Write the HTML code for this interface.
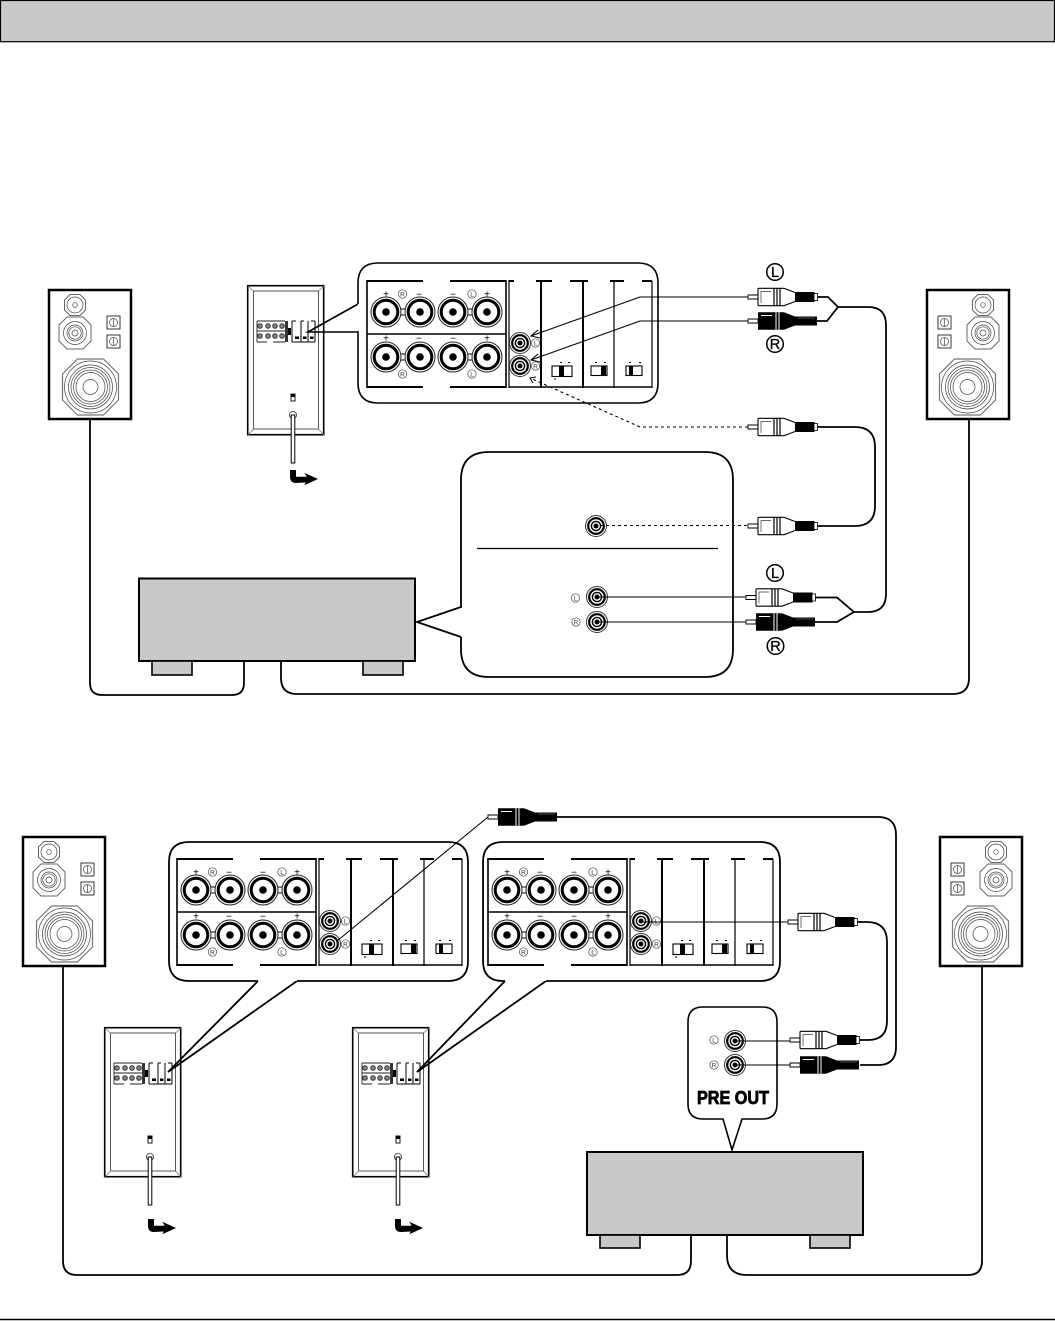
<!DOCTYPE html>
<html><head><meta charset="utf-8"><style>html,body{margin:0;padding:0;background:#fff}svg{display:block}text{font-family:"Liberation Sans",sans-serif}</style></head><body>
<svg xmlns="http://www.w3.org/2000/svg" width="1055" height="1321" viewBox="0 0 1055 1321">
<defs>
<g id="spk" fill="none" stroke="#444" stroke-width=".7">
<rect x="0" y="0" width="82" height="129" fill="#fff" stroke="#000" stroke-width="2.5"/>
<polygon points="21,4.5 31,4.5 36.5,10 36.5,20 31,25.5 21,25.5 15.5,20 15.5,10" stroke="#666" stroke-width="1"/><circle cx="26" cy="15" r="8"/><circle cx="26" cy="15" r="2.3"/>
<polygon points="18,27 34,27 42,35 42,51 34,59 18,59 10,51 10,35" stroke="#666" stroke-width="1"/><circle cx="26" cy="43" r="11.5"/><circle cx="26" cy="43" r="8"/><circle cx="26" cy="43" r="6.2"/><circle cx="26" cy="43" r="3"/>
<polygon points="28.5,69 54.5,69 69.5,84 69.5,110 54.5,125 28.5,125 13.5,110 13.5,84" stroke="#777" stroke-width="1.2"/><circle cx="41.5" cy="97" r="26"/><circle cx="41.5" cy="97" r="22"/><circle cx="41.5" cy="97" r="19.5"/><circle cx="41.5" cy="97" r="17"/><circle cx="41.5" cy="97" r="14.5"/><circle cx="41.5" cy="97" r="7.5"/>
<rect x="58" y="26" width="13" height="13" stroke="#222" stroke-width=".9"/><circle cx="64.5" cy="32.5" r="4"/><path d="M64.5 28.5v8"/>
<rect x="58" y="45" width="13" height="13" stroke="#222" stroke-width=".9"/><circle cx="64.5" cy="51.5" r="4"/><path d="M64.5 47.5v8"/>
</g>
<g id="unit">
<rect x=".7" y=".7" width="76" height="149" fill="#fff" stroke="#000" stroke-width="1.6"/>
<rect x="6.5" y="6" width="65" height="138" fill="none" stroke="#555" stroke-width="1"/>
<path d="M1 1l5.5 5M77 1l-5.5 5M1 150l5.5-6M77 150l-5.5-6" stroke="#777" stroke-width=".8"/>
<g fill="#888" stroke="#333" stroke-width="1"><circle cx="13" cy="41" r="2.3"/><circle cx="21" cy="41" r="2.3"/><circle cx="28" cy="41" r="2.3"/><circle cx="35" cy="41" r="2.3"/><circle cx="13" cy="51" r="2.3"/><circle cx="21" cy="51" r="2.3"/><circle cx="28" cy="51" r="2.3"/><circle cx="35" cy="51" r="2.3"/></g>
<path d="M10 36H38M10 46H38M10 57H20M26 57H38M10 36V57M38.5 36V57" fill="none" stroke="#222" stroke-width=".9"/>
<path d="M40 36V57" stroke="#000" stroke-width="1.6"/>
<rect x="41" y="43" width="3" height="7" fill="#000"/>
<path d="M45 36V57M54 36V57M61 36V57M68 36V57M45 57H68M45 36H49M54 36H57M64 36H68" fill="none" stroke="#000" stroke-width="1"/>
<rect x="48" y="51.5" width="4" height="2.5" fill="#000"/><rect x="56" y="51.5" width="3.5" height="2.5" fill="#000"/><rect x="63" y="51.5" width="3.5" height="2.5" fill="#000"/>
<rect x="44" y="109" width="4" height="7" fill="#fff" stroke="#000" stroke-width=".9"/><rect x="44" y="109" width="4" height="3" fill="#000"/>
<circle cx="46" cy="130" r="3.6" fill="#fff" stroke="#444" stroke-width=".9"/>
<rect x="44.2" y="130" width="3.6" height="48" fill="#fff" stroke="#000" stroke-width="1"/>
</g>
<path id="bend" d="M0 0H6V6.7H16.7L14.3 2.8 28 9 14.3 15.2 15.7 12.5 6 13C2 13 0 11 0 6.5Z" fill="#000"/>
<g id="term"><circle r="15" fill="#fff" stroke="#222" stroke-width="1"/><circle r="11.8" fill="#fff" stroke="#000" stroke-width="3"/><circle r="3.8" fill="#000"/></g>
<g id="jack"><circle r="10.5" fill="#fff" stroke="#333" stroke-width="1"/><circle r="7.8" fill="#fff" stroke="#000" stroke-width="2.2"/><circle r="4.6" fill="#fff" stroke="#000" stroke-width="1.4"/><circle r="2.5" fill="#000"/></g>
<g id="cL"><circle r="4.2" fill="#fff" stroke="#444" stroke-width=".7"/><text y="2.4" text-anchor="middle" font-size="6.5" fill="#333">L</text></g>
<g id="cR"><circle r="4.2" fill="#fff" stroke="#444" stroke-width=".7"/><text y="2.4" text-anchor="middle" font-size="6.5" fill="#333">R</text></g>
<g id="bL"><circle r="8.3" fill="#fff" stroke="#000" stroke-width="1.5"/><text y="5.2" text-anchor="middle" font-size="14.5" fill="#000" stroke="#000" stroke-width=".3">L</text></g>
<g id="bR"><circle r="8.3" fill="#fff" stroke="#000" stroke-width="1.5"/><text y="5.2" text-anchor="middle" font-size="14.5" fill="#000" stroke="#000" stroke-width=".3">R</text></g>
<g id="panel">
<path d="M367 281H423M450 281H506M367 387H423M450 387H506" stroke="#000" stroke-width="2" fill="none"/>
<path d="M367 280V388M506 280V388" stroke="#000" stroke-width="1.6" fill="none"/>
<path d="M367 334H506" stroke="#000" stroke-width="1.6"/>
<path d="M509 280V388M652 281V388M614 281V388" stroke="#222" stroke-width="1.4" fill="none"/>
<path d="M541 281V388M583 281V388" stroke="#000" stroke-width="2" fill="none"/>
<path d="M509 281H514M536 281H552M570 281H588M610 281H624M642 281H652" stroke="#000" stroke-width="2" fill="none"/>
<path d="M509 387H652" stroke="#000" stroke-width="1.6"/>
<path d="M401 309h4M401 315h4M468 309h4M468 315h4M401 354h4M401 360h4M468 354h4M468 360h4" stroke="#000" stroke-width="1" fill="none"/>
<use href="#term" x="386" y="312"/><use href="#term" x="420" y="312"/><use href="#term" x="453" y="312"/><use href="#term" x="487" y="312"/>
<use href="#term" x="386" y="357"/><use href="#term" x="420" y="357"/><use href="#term" x="453" y="357"/><use href="#term" x="487" y="357"/>
<g font-size="10" fill="#000" text-anchor="middle"><text x="386" y="297.5">+</text><text x="419" y="297.5">−</text><text x="453" y="297.5">−</text><text x="487" y="297.5">+</text><text x="386" y="341.5">+</text><text x="419" y="341.5">−</text><text x="453" y="341.5">−</text><text x="487" y="341.5">+</text></g>
<use href="#cR" x="402.5" y="294"/><use href="#cL" x="472" y="294"/><use href="#cR" x="402.5" y="374"/><use href="#cL" x="472" y="374"/>
<use href="#jack" x="520" y="343"/><use href="#jack" x="520" y="366"/><use href="#cL" x="535.5" y="343"/><use href="#cR" x="535.5" y="366"/>
<rect x="552" y="366" width="20" height="10.5" fill="#fff" stroke="#000" stroke-width="1.1"/><rect x="559" y="366" width="5" height="10.5" fill="#000"/>
<rect x="591" y="366" width="16" height="9.5" fill="#fff" stroke="#000" stroke-width="1.1"/><rect x="601" y="366" width="5" height="9.5" fill="#000"/>
<rect x="626" y="366" width="16" height="9.5" fill="#fff" stroke="#000" stroke-width="1.1"/><rect x="629" y="366" width="4" height="9.5" fill="#000"/>
<path d="M560 362.5h2M568 362.5h2M595 362.5h2M604 362.5h2M629 362.5h2M639 362.5h2M554 379h2" stroke="#000" stroke-width="1"/>
</g>
<g id="pw">
<path d="M0 -2H10V2H0Z" fill="#fff" stroke="#000" stroke-width=".9"/>
<path d="M11 -8.7H36L47 -4.5H66V4.5H47L36 8.7H11Q10 8.7 10 7.7V-7.7Q10 -8.7 11 -8.7Z" fill="#fff" stroke="#000" stroke-width="1.1"/>
<path d="M13 6V-5.5H23" fill="none" stroke="#333" stroke-width=".7"/>
<path d="M26 -8.7V8.7M29 -8.7V8.7M32 -8.7V8.7" stroke="#000" stroke-width="1.2"/>
<rect x="47" y="-4.7" width="19" height="9.4" fill="#000"/>
<rect x="66" y="-3.5" width="3.5" height="7" fill="#fff" stroke="#000" stroke-width=".8"/>
</g>
<g id="pk">
<path d="M0 -2H10V2H0Z" fill="#fff" stroke="#000" stroke-width=".9"/>
<path d="M10 -8.7H36L47 -4.5H69V4.5H47L36 8.7H10Z" fill="#000"/>
<path d="M13 -5.5H24M28 -8.7V8.7M31 -8.7V8.7" stroke="#fff" stroke-width="1" fill="none"/>
<path d="M50 -3H67" stroke="#666" stroke-width=".8"/>
</g>
</defs>

<rect x=".5" y=".5" width="1054" height="41.2" fill="#c8c8c8" stroke="#000" stroke-width="1.2"/>
<path d="M0 1319.5H1055" stroke="#000" stroke-width="1.6"/>

<!-- TOP DIAGRAM -->
<use href="#spk" x="49" y="290"/>
<use href="#spk" transform="translate(1009,290) scale(-1,1)"/>
<use href="#unit" x="247" y="285"/>
<use href="#bend" x="290" y="470"/>
<path d="M358 304L308 332H358" fill="none" stroke="#000" stroke-width="1.6"/>
<path d="M358 304V283Q358 263 378 263H638Q658 263 658 283V383Q658 403 638 403H378Q358 403 358 383V331" fill="#fff" stroke="#000" stroke-width="1.6"/>
<use href="#panel"/>

<path d="M461 637V649Q461 677 489 677H705Q733 677 733 649V480Q733 452 705 452H489Q461 452 461 480V607L417 622 461 637" fill="#fff" stroke="#000" stroke-width="1.8"/>
<path d="M477 548.5H718" stroke="#000" stroke-width="1.3"/>
<rect x="139" y="578.5" width="276" height="82.5" fill="#c8c8c8" stroke="#000" stroke-width="2"/>
<rect x="152" y="661" width="40" height="14" fill="#c8c8c8" stroke="#000" stroke-width="1.6"/>
<rect x="363" y="661" width="40" height="14" fill="#c8c8c8" stroke="#000" stroke-width="1.6"/>
<use href="#jack" x="596" y="526"/><use href="#jack" x="597" y="597"/><use href="#jack" x="597" y="622"/>
<use href="#cL" x="575.5" y="598"/><use href="#cR" x="576" y="622"/>

<g fill="none" stroke="#000" stroke-width="1.8">
<path d="M90 419V683Q90 695 102 695H232Q244 695 244 683V661"/>
<path d="M281 661V678Q281 694 297 694H953Q969 694 969 678V419"/>
<path d="M817 297H828L838 307 827 321H817M838 307H868Q886 307 886 325V594Q886 612 868 612H854L837 597.5H815M854 612L837 622H815"/>
<path d="M817 427H855Q875 427 875 447V506Q875 526 855 526H817"/>
</g>
<g fill="none" stroke="#000" stroke-width="1.1">
<path d="M748 297H640L531 336M538 330L531 336 540 338"/>
<path d="M748 321H640L531 360M538 354L531 360 540 362"/>
<path d="M597 597H748M597 622H748"/>
<path d="M748 427H640L530 378" stroke-dasharray="3 3"/>
<path d="M536 377L530 378 533 383" stroke-width="1"/>
<path d="M600 525.5H748" stroke-dasharray="3 3"/>
</g>
<use href="#pw" x="748" y="297"/><use href="#pk" x="748" y="321"/>
<use href="#pw" x="748" y="427"/><use href="#pw" x="748" y="526"/>
<use href="#pw" x="746" y="597.5"/><use href="#pk" x="746" y="622"/>
<use href="#bL" x="775" y="272"/><use href="#bR" x="775" y="344"/>
<use href="#bL" x="775" y="573"/><use href="#bR" x="775.5" y="646"/>

<!-- BOTTOM DIAGRAM -->
<use href="#spk" x="23" y="837"/>
<use href="#spk" transform="translate(1022,837) scale(-1,1)"/>
<use href="#unit" x="104" y="1027"/>
<use href="#unit" x="352" y="1027"/>
<use href="#bend" x="148" y="1219"/><use href="#bend" x="395" y="1219"/>
<path d="M258 981L168 1072 297 981M505 981L417 1072 546 981" fill="none" stroke="#000" stroke-width="1.8"/>
<path d="M258 981H189Q169 981 169 961V862Q169 842 189 842H448Q468 842 468 862V961Q468 981 448 981H297" fill="#fff" stroke="#000" stroke-width="1.8"/>
<path d="M505 981H503Q483 981 483 961V862Q483 842 503 842H760Q780 842 780 862V961Q780 981 760 981H546" fill="#fff" stroke="#000" stroke-width="1.8"/>
<use href="#panel" transform="translate(-190,578)"/>
<use href="#panel" transform="translate(121,578)"/>

<path d="M723 1119H703Q688 1119 688 1104V1022Q688 1007 703 1007H762Q777 1007 777 1022V1104Q777 1119 762 1119H742L732 1150Z" fill="#fff" stroke="#000" stroke-width="1.6"/>
<use href="#jack" x="735" y="1041"/><use href="#jack" x="735" y="1065"/>
<use href="#cL" x="714" y="1040"/><use href="#cR" x="714" y="1065"/>
<text x="733" y="1104" text-anchor="middle" font-size="18" font-weight="bold" textLength="72" lengthAdjust="spacingAndGlyphs" stroke="#000" stroke-width=".8">PRE OUT</text>
<rect x="587" y="1152" width="276" height="83" fill="#c8c8c8" stroke="#000" stroke-width="2"/>
<rect x="600" y="1235" width="40" height="13" fill="#c8c8c8" stroke="#000" stroke-width="1.6"/>
<rect x="810" y="1235" width="40" height="13" fill="#c8c8c8" stroke="#000" stroke-width="1.6"/>

<g fill="none" stroke="#000" stroke-width="1.8">
<path d="M63 966V1261Q63 1275 77 1275H677Q691 1275 691 1261V1235"/>
<path d="M727 1235V1255Q727 1275 747 1275H968Q982 1275 982 1261V966"/>
<path d="M857 922H867Q887 922 887 942V1021Q887 1040 868 1040H860"/>
<path d="M860 1065H878Q896 1065 896 1047V835Q896 817 878 817H557"/>
</g>
<g fill="none" stroke="#000" stroke-width="1.1">
<path d="M641 922H788M337 941L488 817M735 1041H791M735 1065H791"/>
</g>
<use href="#pw" x="788" y="922"/><use href="#pw" x="790" y="1040"/><use href="#pk" x="790" y="1065"/>
<use href="#pk" x="488" y="817"/>
</svg>
</body></html>
